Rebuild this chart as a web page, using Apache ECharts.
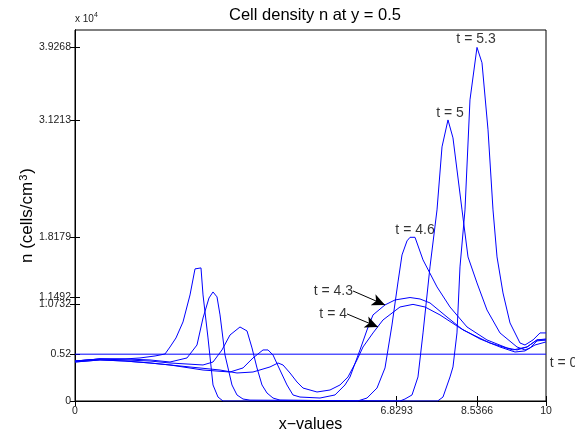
<!DOCTYPE html>
<html>
<head>
<meta charset="utf-8">
<script src="https://cdn.jsdelivr.net/npm/echarts@6/dist/echarts.min.js"></script>
<style>
html,body{margin:0;padding:0;background:#fff;}
#chart{width:575px;height:436px;}
</style>
</head>
<body>
<div id="chart"></div>
<script>
// ---- data (x in x-values, y in units of 10^4 cells/cm^3) ----
var xTicks = [0, 6.8293, 8.5366, 10];
var yTicks = [0, 0.52, 1.0732, 1.1492, 1.8179, 3.1213, 3.9268];

var curveT0 = [[0, 0.52], [10, 0.52]];

var curveT4 = [[0,0.433],[0.531,0.456],[1.062,0.444],[1.592,0.422],[2.017,0.4],[3.079,0.344],[3.439,0.311],[3.779,0.322],[4.140,0.378],[4.310,0.422],[4.416,0.4],[4.565,0.311],[4.713,0.211],[4.841,0.144],[5.138,0.1],[5.414,0.122],[5.626,0.178],[5.796,0.267],[5.987,0.456],[6.115,0.6],[6.327,0.756],[6.539,0.9],[6.9,1.044],[7.176,1.0732],[7.431,1.044],[7.749,0.956],[8.174,0.811],[8.599,0.689],[9.023,0.6],[9.342,0.544],[9.554,0.556],[9.766,0.622],[10,0.656]];

var curveT43 = [[0,0.433],[0.531,0.456],[1.062,0.444],[1.592,0.422],[2.017,0.4],[2.718,0.344],[3.291,0.322],[3.567,0.367],[3.779,0.478],[3.992,0.567],[4.098,0.567],[4.204,0.511],[4.352,0.344],[4.501,0.178],[4.628,0.067],[4.777,0.044],[5.202,0.033],[5.52,0.067],[5.732,0.178],[5.839,0.267],[6.051,0.567],[6.2,0.789],[6.327,0.956],[6.582,1.067],[6.794,1.122],[7.113,1.1492],[7.325,1.133],[7.537,1.089],[7.898,0.933],[8.238,0.789],[8.811,0.644],[9.299,0.567],[9.597,0.6],[9.809,0.678],[10,0.689]];

var curveT46 = [[0,0.444],[0.531,0.467],[1.062,0.456],[1.592,0.444],[2.017,0.422],[2.718,0.4],[2.930,0.433],[3.121,0.567],[3.291,0.733],[3.503,0.822],[3.652,0.778],[3.758,0.589],[3.864,0.367],[3.970,0.178],[4.076,0.089],[4.204,0.033],[4.352,0.01],[6.0,0],[6.2,0.033],[6.412,0.144],[6.582,0.367],[6.730,0.844],[6.858,1.322],[6.943,1.622],[7.049,1.778],[7.113,1.8179],[7.219,1.8179],[7.389,1.567],[7.686,1.267],[7.962,1.044],[8.323,0.822],[8.747,0.678],[9.172,0.589],[9.384,0.567],[9.597,0.6],[9.809,0.678],[10,0.678]];

var curveT5 = [[0,0.444],[0.531,0.467],[1.062,0.467],[1.592,0.456],[2.017,0.433],[2.378,0.478],[2.590,0.622],[2.718,0.922],[2.845,1.144],[2.930,1.211],[3.015,1.156],[3.079,0.956],[3.185,0.511],[3.333,0.178],[3.439,0.067],[3.567,0.022],[3.715,0.01],[6.9,0],[7.006,0.022],[7.155,0.067],[7.282,0.267],[7.389,0.756],[7.537,1.489],[7.686,2.122],[7.792,2.822],[7.919,3.1213],[8.025,2.922],[8.217,2.122],[8.344,1.6],[8.535,1.311],[8.747,1.011],[9.023,0.756],[9.384,0.6],[9.554,0.567],[9.66,0.589],[9.809,0.667],[10,0.678]];

var curveT53 = [[0,0.444],[0.531,0.467],[1.062,0.467],[1.38,0.478],[1.699,0.5],[1.911,0.522],[2.017,0.6],[2.144,0.7],[2.293,0.878],[2.442,1.178],[2.548,1.467],[2.569,1.478],[2.675,1.478],[2.718,1.178],[2.824,0.7],[2.930,0.178],[3.036,0.044],[3.142,0],[7.7,0],[7.813,0.044],[7.962,0.267],[8.025,0.378],[8.110,0.756],[8.174,1.489],[8.280,2.122],[8.386,3.344],[8.535,3.9268],[8.641,3.756],[8.769,3.011],[8.875,2.122],[8.960,1.6],[9.087,1.2],[9.236,0.867],[9.448,0.644],[9.554,0.622],[9.724,0.678],[9.873,0.756],[10,0.756]];

var curveNames = ['t = 0', 't = 4', 't = 4.3', 't = 4.6', 't = 5', 't = 5.3'];
var curves = [curveT0, curveT4, curveT43, curveT46, curveT5, curveT53];

// annotation text anchors (data coords)
var labelTexts = ['t = 5.3', 't = 5', 't = 4.6', 't = 4.3', 't = 4', 't = 0'];
var labelX = [8.514, 7.962, 7.219, 5.902, 5.775, 10.08];
var labelY = [4.02, 3.2, 1.9, 1.222, 0.967, 0.42];
var labelAlign = ['center', 'center', 'center', 'right', 'right', 'left'];
// arrows: start -> tip
var arrowFrom = [[5.902, 1.222], [5.775, 0.967]];
var arrowTo = [[6.582, 1.067], [6.433, 0.822]];

var FONT = '"Liberation Sans", Arial, Helvetica, sans-serif';
var chart = echarts.init(document.getElementById('chart'), null, {renderer: 'canvas'});

var series = curves.map(function (c, i) {
  return {
    name: curveNames[i], type: 'line', data: c, showSymbol: false, symbol: 'none',
    smooth: false, animation: false, clip: true,
    lineStyle: {color: '#0000ff', width: 1}
  };
});
series.push({
  type: 'line', data: [], animation: false,
  markLine: {
    silent: true, animation: false, symbol: ['none', 'arrow'], symbolSize: 12,
    lineStyle: {color: '#000', width: 1, type: 'solid'},
    itemStyle: {color: '#000'},
    label: {show: false},
    data: arrowFrom.map(function (f, i) {
      return [{coord: f, symbol: 'none'}, {coord: arrowTo[i], symbol: 'arrow', symbolSize: [9, 13]}];
    })
  }
});
series.push({
  type: 'scatter', symbolSize: 0, animation: false, silent: true, clip: false,
  data: labelTexts.map(function (t, i) {
    return {name: t, value: [labelX[i], labelY[i]],
      label: {align: labelAlign[i]}};
  }),
  label: {show: true, position: 'inside', formatter: '{b}', color: '#000',
    fontSize: 14, fontFamily: FONT, verticalAlign: 'middle'}
});

var option = {
  animation: false,
  backgroundColor: '#fff',
  title: {
    text: 'Cell density n at y = 0.5', left: 310, top: 2, textAlign: 'center',
    textStyle: {fontSize: 16.5, fontWeight: 'normal', color: '#000', fontFamily: FONT}
  },
  grid: {left: 75, right: 29, top: 30, bottom: 35, show: true, borderColor: '#000', borderWidth: 1,
    containLabel: false, outerBoundsMode: 'none'},
  xAxis: [{
    type: 'value', min: 0, max: 10, position: 'bottom',
    name: 'x\u2212values', nameLocation: 'middle', nameGap: 16, nameMoveOverlap: false,
    nameTextStyle: {fontSize: 16, color: '#000', fontFamily: FONT},
    axisLine: {show: true, lineStyle: {color: '#000', width: 1}},
    axisTick: {show: true, inside: true, length: 5, customValues: xTicks, lineStyle: {color: '#000'}},
    axisLabel: {show: true, customValues: xTicks, color: '#222', fontSize: 10.5, fontFamily: FONT, margin: 5,
      formatter: function (v) { return String(v); }},
    splitLine: {show: false}
  }, {
    type: 'value', min: 0, max: 10, position: 'top',
    axisLine: {show: true, lineStyle: {color: '#000', width: 1}},
    axisTick: {show: true, inside: true, length: 5, customValues: xTicks, lineStyle: {color: '#000'}},
    axisLabel: {show: false}, splitLine: {show: false}
  }],
  yAxis: [{
    type: 'value', min: 0, max: 4.12, position: 'left',
    name: '{a|n (cells/cm}{b|3}{a|)}', nameLocation: 'middle', nameGap: 38, nameRotate: 90,
    nameMoveOverlap: false,
    nameTextStyle: {fontSize: 17, color: '#000', fontFamily: FONT,
      rich: {
        a: {fontSize: 17, fontFamily: FONT, color: '#000'},
        b: {fontSize: 11, fontFamily: FONT, color: '#000', verticalAlign: 'top', padding: [0, 1, 8, 1]}
      }},
    axisLine: {show: true, lineStyle: {color: '#000', width: 1}},
    axisTick: {show: true, inside: true, length: 5, customValues: yTicks, lineStyle: {color: '#000'}},
    axisLabel: {show: true, customValues: yTicks, color: '#222', fontSize: 10.5, fontFamily: FONT, margin: 4,
      formatter: function (v) { return String(v); }},
    splitLine: {show: false}
  }, {
    type: 'value', min: 0, max: 4.12, position: 'right',
    axisLine: {show: true, lineStyle: {color: '#000', width: 1}},
    axisTick: {show: true, inside: true, length: 5, customValues: yTicks, lineStyle: {color: '#000'}},
    axisLabel: {show: false}, splitLine: {show: false}
  }],
  graphic: [{
    type: 'text', left: 75, top: 12,
    style: {
      text: '{a|x 10}{b|4}',
      rich: {
        a: {fontSize: 10, fontFamily: FONT, fill: '#222'},
        b: {fontSize: 7, fontFamily: FONT, fill: '#222', verticalAlign: 'top', padding: [0, 0, 7, 0]}
      }
    }
  }],
  series: series
};
chart.setOption(option);
</script>
</body>
</html>
